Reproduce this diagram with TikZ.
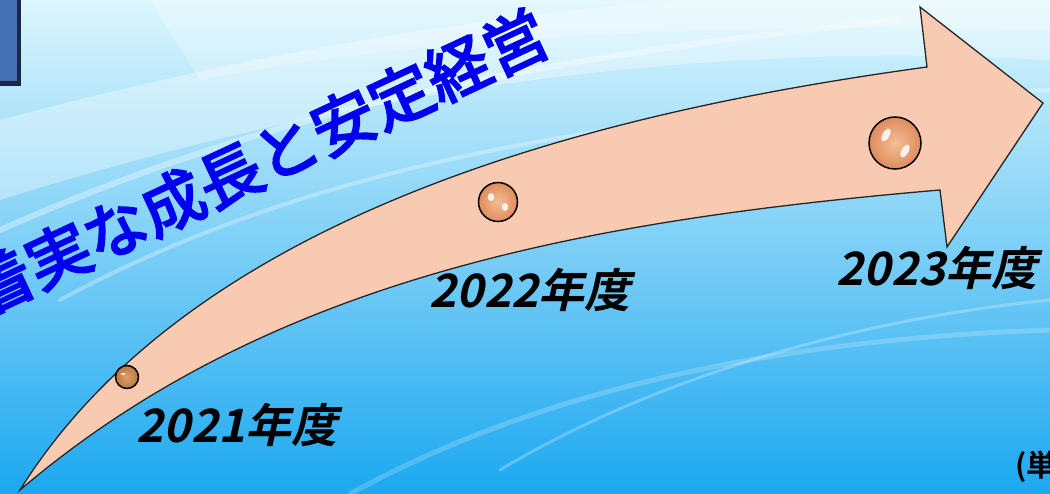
\documentclass[tikz,border=0pt]{standalone}
\usepackage{fontspec}
\newfontfamily\jpt{Noto Sans CJK JP}[FakeBold=3.5]
\newfontfamily\jpb{Noto Sans CJK JP Bold}
\newfontfamily\jpyear{Noto Sans CJK JP Bold}[FakeSlant=0.22]
\definecolor{arrowfill}{RGB}{248,202,178}
\definecolor{bgtop}{RGB}{220,246,253}
\definecolor{bgmid}{RGB}{100,212,247}
\definecolor{bgbot}{RGB}{28,168,240}
\definecolor{titleblue}{RGB}{0,0,238}
\definecolor{ballin}{RGB}{244,190,150}
\definecolor{ballout}{RGB}{222,140,92}
\definecolor{smallin}{RGB}{222,160,105}
\definecolor{smallout}{RGB}{185,120,70}
\definecolor{boxblue}{RGB}{70,112,180}
\definecolor{boxdark}{RGB}{25,40,75}
\tikzset{
  arrowshape/.style={fill=arrowfill, draw=black!85, line width=1.3pt, line join=miter},
  ball/.style={circle, draw=black, line width=1.5pt, inner sep=0pt, shade, inner color=ballin, outer color=ballout},
  smallball/.style={circle, draw=black, line width=1.5pt, inner sep=0pt, shade, inner color=smallin, outer color=smallout},
  shine/.style={fill=white, opacity=0.85},
  year/.style={font=\jpyear\fontsize{46}{46}\selectfont, text=black, inner sep=0pt},
  titletext/.style={font=\jpt\fontsize{63}{63}\selectfont, text=titleblue, inner sep=0pt},
  unit/.style={font=\jpb\fontsize{30}{30}\selectfont, text=black, inner sep=0pt},
  streak/.style={white, line cap=round}
}
\begin{document}
\begin{tikzpicture}[x=1pt,y=-1pt]
\useasboundingbox (0,0) rectangle (1050,494);
\begin{scope}
\clip (0,0) rectangle (1050,494);
% background
\shade[top color=bgtop, middle color=bgmid, bottom color=bgbot] (0,0) rectangle (1050,494);
\fill[white, opacity=0.35] (0,120) .. controls (300,40) and (600,-10) .. (1050,-20) -- (1050,60) .. controls (700,40) and (350,90) .. (0,200) -- cycle;
\fill[white, opacity=0.25] (150,0) -- (1050,0) -- (1050,30) .. controls (700,20) and (400,40) .. (200,80) -- cycle;
\draw[streak, opacity=0.35, line width=6pt] (0,230) .. controls (250,120) and (500,60) .. (900,20);
\draw[streak, opacity=0.3, line width=4pt] (60,300) .. controls (300,170) and (600,110) .. (1050,90);
\draw[streak, opacity=0.25, line width=3pt] (500,470) .. controls (650,380) and (850,320) .. (1050,300);
\draw[streak, opacity=0.2, line width=5pt] (350,494) .. controls (520,400) and (750,340) .. (1050,330);

% top-left box
\fill[boxdark] (-5,-5) rectangle (21,86);
\fill[boxblue] (-5,-5) rectangle (17,81);

% arrow
\draw[arrowshape] (20,490) .. controls (200,202) and (627,108) .. (927,67)
  -- (920,7) -- (1043,103) -- (947,247) -- (940,190)
  .. controls (590,220) and (270,277) .. (20,490) -- cycle;

% balls
\node[smallball, minimum size=23pt] (b1) at (127,377) {};
\fill[white, opacity=0.7] (123,374) ellipse (2.5pt and 1.2pt);
\node[ball, minimum size=39pt] (b2) at (498,202) {};
\fill[shine] (491,197) ellipse (3.2pt and 4pt);
\fill[shine] (505,207) ellipse (3.2pt and 4pt);
\node[ball, minimum size=52pt] (b3) at (895,143) {};
\fill[shine, rotate around={-30:(886,135)}] (886,135) ellipse (3.5pt and 7pt);
\fill[shine, rotate around={-30:(905,151)}] (905,151) ellipse (3.5pt and 7pt);

% title
\node[titletext, rotate=25] (title) at (258,162) {着実な成長と安定経営};

% years
\node[year] (y1) at (237,425) {2021年度};
\node[year] (y2) at (530,290) {2022年度};
\node[year] (y3) at (937,268) {2023年度};

% unit
\node[unit, anchor=west] (u) at (1015,467) {(単};
\end{scope}
\end{tikzpicture}
\end{document}
